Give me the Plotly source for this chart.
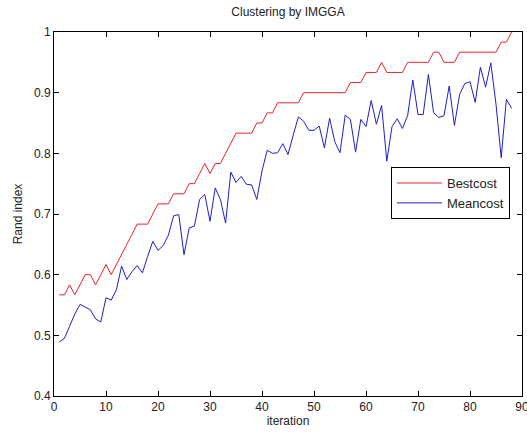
import plotly.graph_objects as go

iterations = list(range(1, 89))

bestcost = [
    0.5667, 0.5667, 0.5833, 0.5667, 0.5833, 0.6000, 0.6000, 0.5833, 0.6000, 0.6167,
    0.6000, 0.6167, 0.6333, 0.6500, 0.6667, 0.6833, 0.6833, 0.6833, 0.7000, 0.7167,
    0.7167, 0.7167, 0.7333, 0.7333, 0.7333, 0.7500, 0.7500, 0.7667, 0.7833, 0.7667,
    0.7833, 0.7833, 0.8000, 0.8167, 0.8333, 0.8333, 0.8333, 0.8333, 0.8500, 0.8500,
    0.8667, 0.8667, 0.8833, 0.8833, 0.8833, 0.8833, 0.8833, 0.9000, 0.9000, 0.9000,
    0.9000, 0.9000, 0.9000, 0.9000, 0.9000, 0.9000, 0.9167, 0.9167, 0.9167, 0.9333,
    0.9333, 0.9333, 0.9500, 0.9333, 0.9333, 0.9333, 0.9333, 0.9500, 0.9500, 0.9500,
    0.9500, 0.9500, 0.9667, 0.9667, 0.9500, 0.9500, 0.9500, 0.9667, 0.9667, 0.9667,
    0.9667, 0.9667, 0.9667, 0.9667, 0.9667, 0.9833, 0.9833, 1.0000,
]

meancost = [
    0.489, 0.495, 0.515, 0.535, 0.551, 0.547, 0.542, 0.527, 0.522, 0.562,
    0.558, 0.575, 0.614, 0.592, 0.605, 0.615, 0.603, 0.630, 0.655, 0.640,
    0.648, 0.665, 0.697, 0.699, 0.633, 0.677, 0.680, 0.724, 0.732, 0.688,
    0.743, 0.724, 0.685, 0.769, 0.752, 0.762, 0.749, 0.748, 0.724, 0.771,
    0.805, 0.800, 0.801, 0.816, 0.798, 0.830, 0.860, 0.853, 0.838, 0.838,
    0.845, 0.809, 0.858, 0.819, 0.801, 0.863, 0.856, 0.802, 0.856, 0.844,
    0.887, 0.848, 0.879, 0.787, 0.844, 0.857, 0.841, 0.862, 0.921, 0.864,
    0.864, 0.930, 0.867, 0.859, 0.862, 0.911, 0.846, 0.897, 0.915, 0.918,
    0.884, 0.942, 0.909, 0.949, 0.881, 0.793, 0.889, 0.874,
]

x_ticks = [0, 10, 20, 30, 40, 50, 60, 70, 80, 90]
y_ticks = [0.4, 0.5, 0.6, 0.7, 0.8, 0.9, 1.0]
y_tick_labels = ["0.4", "0.5", "0.6", "0.7", "0.8", "0.9", "1"]

font_family = "Liberation Sans, Arial, sans-serif"

fig = go.Figure()
fig.add_trace(go.Scatter(x=iterations, y=bestcost, mode="lines", name="Bestcost",
                         line=dict(color="#e8242b", width=1)))
fig.add_trace(go.Scatter(x=iterations, y=meancost, mode="lines", name="Meancost",
                         line=dict(color="#1f1fc8", width=1)))

axis_common = dict(
    showgrid=False, zeroline=False, showline=True, linecolor="black", linewidth=1,
    mirror="ticks", ticks="inside", ticklen=5, tickcolor="black", automargin=False,
    tickfont=dict(family=font_family, size=12, color="#222222"),
)

fig.update_layout(
    width=527, height=433,
    margin=dict(l=54, r=5, t=32, b=37),
    paper_bgcolor="white", plot_bgcolor="white",
    font=dict(family=font_family, size=12, color="#222222"),
    title=dict(text="Clustering by IMGGA", x=0.5, xref="paper", xanchor="center",
               y=1 - 12 / 433, yref="container", yanchor="middle",
               font=dict(family=font_family, size=12, color="#222222")),
    xaxis=dict(range=[0, 90], tickvals=x_ticks, ticklabeloverflow="allow",
               title=dict(text="iteration", standoff=2,
                          font=dict(family=font_family, size=12, color="#222222")),
               **axis_common),
    yaxis=dict(range=[0.4, 1.0], tickvals=y_ticks, ticktext=y_tick_labels,
               title=dict(text="Rand index", standoff=8,
                          font=dict(family=font_family, size=12, color="#222222")),
               **axis_common),
    legend=dict(x=0.72, y=0.629, xanchor="left", yanchor="top",
                bgcolor="white", bordercolor="black", borderwidth=1,
                itemwidth=45, tracegroupgap=0,
                font=dict(family=font_family, size=13, color="#222222")),
    showlegend=True,
)

fig.write_html("out.html")
